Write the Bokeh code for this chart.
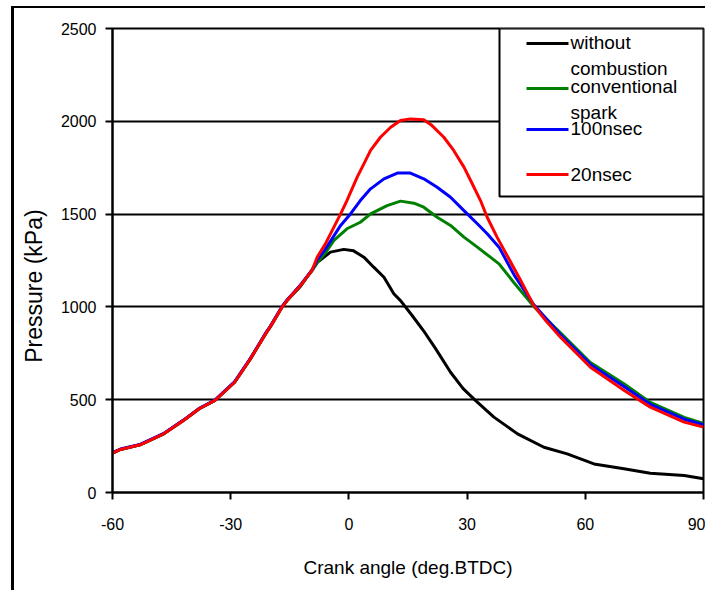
from bokeh.plotting import figure
from bokeh.models import Range1d, FixedTicker, Label, BoxAnnotation
from bokeh.embed import file_html
from bokeh.resources import INLINE

# ---------------- data ----------------
x_ticks = [-60, -30, 0, 30, 60, 90]
x_tick_labels = ["-60", "-30", "0", "30", "60", "90"]
y_ticks = [0, 500, 1000, 1500, 2000, 2500]
y_tick_labels = ["0", "500", "1000", "1500", "2000", "2500"]

series_names = ["without combustion", "conventional spark", "100nsec", "20nsec"]
series_colors = ["black", "green", "blue", "red"]

# without combustion
wc_deg = [-60, -58, -53, -47, -42, -38, -34, -29, -25, -21, -20, -17, -15.7, -12.3, -10, -8,
          -4.7, -1.3, 1.2, 3.8, 6.3, 8.9, 11.4, 13.1, 16, 19, 22, 25.8, 29, 32.1, 36.8, 42.8,
          49.5, 55.4, 62.2, 69.8, 76.5, 85.1, 90]
wc_kpa = [212, 232, 257, 316, 388, 451, 496, 594, 720, 860, 891, 998, 1034, 1110, 1180, 1240,
          1295, 1310, 1302, 1268, 1214, 1160, 1071, 1034, 955, 870, 775, 648, 560, 496, 406, 316,
          244, 208, 154, 128, 104, 92, 74]

# conventional spark
cs_deg = [-60, -58, -53, -47, -42, -38, -34, -29, -25, -21, -20, -17, -15.7, -12.3, -9.3, -8,
          -6, -3.8, -0.5, 2.9, 5.5, 9.7, 13.1, 16.5, 19, 22.4, 25.8, 29.2, 32.6, 35.9, 38.1,
          41.8, 47, 53.7, 61.3, 69.9, 76.5, 85.1, 90]
cs_kpa = [212, 232, 257, 316, 388, 451, 496, 594, 720, 860, 891, 998, 1034, 1115, 1196, 1240,
          1290, 1358, 1421, 1456, 1501, 1546, 1570, 1559, 1537, 1483, 1439, 1376, 1322, 1268, 1232,
          1133, 1000, 860, 700, 585, 485, 405, 372]

# 100 nsec
n100_deg = [-60, -58, -53, -47, -42, -38, -34, -29, -25, -21, -20, -17, -15.7, -12.3, -9.3, -8,
            -6, -2.1, 0.4, 2.9, 5.5, 8.9, 12.3, 15.6, 19, 22.4, 25.8, 29.2, 32.6, 35.1, 38.1,
            42, 47, 53.7, 61.3, 69.9, 76.5, 85.1, 90]
n100_kpa = [214, 234, 259, 318, 390, 453, 498, 597, 723, 863, 894, 1001, 1037, 1118, 1200, 1255,
            1310, 1439, 1501, 1573, 1636, 1690, 1721, 1721, 1690, 1645, 1591, 1519, 1448, 1394, 1322,
            1170, 1010, 850, 690, 570, 475, 395, 365]

# 20 nsec
n20_deg = [-60, -58, -53, -47, -42, -38, -34, -29, -25, -21, -20, -17, -15.7, -12.3, -9.3, -8,
           -6, -2.1, -0.5, 2.1, 3.8, 5.5, 8.0, 10.6, 13.1, 15.6, 19, 21.1, 24.1, 26.6, 29.2, 30.9,
           33.4, 35.1, 37.6, 43.6, 46.9, 50, 53.7, 61.3, 69.9, 76.5, 85.1, 90]
n20_kpa = [212, 232, 257, 316, 388, 451, 496, 594, 720, 860, 891, 998, 1034, 1115, 1200, 1270,
           1338, 1501, 1573, 1699, 1771, 1843, 1914, 1968, 2004, 2013, 2008, 1977, 1914, 1843, 1753, 1681,
           1573, 1483, 1376, 1142, 1008, 925, 837, 675, 550, 460, 379, 352]

# ---------------- layout constants ----------------
FONT = "Liberation Sans"
FR_L, FR_R, FR_T, FR_B = 112, 703, 28, 492   # frame edges in the picture (px)
BORDER_X, BORDER_Y = 11, 6                    # outer chart border position
CANVAS_X, CANVAS_Y = BORDER_X + 3, BORDER_Y + 2
W, H = 708 - CANVAS_X, 592 - CANVAS_Y
YLABEL_PAD = "\u00a0" * 8   # pushes the rotated y title a little below the frame centre


def dx(px):
    return -60 + (px - FR_L) * 150.0 / (FR_R - FR_L)


def dy(py):
    return 2500.0 * (FR_B - py) / (FR_B - FR_T)


p = figure(width=W, height=H,
           x_range=Range1d(-60, 90), y_range=Range1d(0, 2500),
           output_backend="svg", toolbar_location=None,
           min_border_left=FR_L - CANVAS_X, min_border_right=CANVAS_X + W - FR_R,
           min_border_top=FR_T - CANVAS_Y, min_border_bottom=CANVAS_Y + H - FR_B,
           background_fill_color="white", border_fill_color="white",
           styles={"margin-left": f"{BORDER_X}px", "margin-top": f"{BORDER_Y}px",
                   "border-left": "3px solid black", "border-top": "2px solid black"})

p.outline_line_color = "black"
p.outline_line_width = 2

p.xgrid.visible = False
p.ygrid.grid_line_color = "black"
p.ygrid.grid_line_width = 2
p.ygrid.ticker = FixedTicker(ticks=y_ticks)

p.xaxis.ticker = FixedTicker(ticks=x_ticks)
p.yaxis.ticker = FixedTicker(ticks=y_ticks)
p.xaxis.major_label_overrides = dict(zip(x_ticks, x_tick_labels))
p.yaxis.major_label_overrides = dict(zip(y_ticks, y_tick_labels))

for ax in (p.xaxis[0], p.yaxis[0]):
    ax.axis_line_color = "black"
    ax.axis_line_width = 2
    ax.major_tick_line_color = "black"
    ax.major_tick_line_width = 2
    ax.major_tick_in = 0
    ax.major_tick_out = 7
    ax.minor_tick_line_color = None
    ax.major_label_text_font = FONT
    ax.major_label_text_font_size = "16px"
    ax.major_label_text_color = "black"
    ax.axis_label_text_font = FONT
    ax.axis_label_text_font_style = "normal"
    ax.axis_label_text_color = "black"

p.xaxis.major_label_standoff = 18
p.yaxis.major_label_standoff = 9
p.xaxis.axis_label = "Crank angle (deg.BTDC)"
p.xaxis.axis_label_text_font_size = "19px"
p.xaxis.axis_label_standoff = 24
p.yaxis.axis_label = "Pressure (kPa)" + YLABEL_PAD
p.yaxis.axis_label_text_font_size = "23px"
p.yaxis.axis_label_standoff = 11

all_x = [wc_deg, cs_deg, n100_deg, n20_deg]
all_y = [wc_kpa, cs_kpa, n100_kpa, n20_kpa]
for xs, ys, col in zip(all_x, all_y, series_colors):
    p.line(xs, ys, line_color=col, line_width=3)

# ---------------- legend (drawn by hand to match the wrapped layout) ----------------
p.add_layout(BoxAnnotation(left=dx(499), right=dx(FR_R), top=dy(FR_T), bottom=dy(196),
                           fill_color="white", fill_alpha=1.0,
                           line_color="black", line_width=2, line_alpha=1.0))

sample_rows = [43, 88, 129, 174]
for row, col in zip(sample_rows, series_colors):
    p.add_layout(BoxAnnotation(left=dx(526), right=dx(568), top=dy(row - 1.5), bottom=dy(row + 1.5),
                               fill_color=col, fill_alpha=1.0, line_alpha=0))

legend_lines = [("without", 42), ("combustion", 68), ("conventional", 86),
                ("spark", 112), ("100nsec", 128), ("20nsec", 174)]
for txt, row in legend_lines:
    p.add_layout(Label(x=dx(570), y=dy(row), text=txt, text_align="left", text_baseline="middle",
                       text_font=FONT, text_font_size="19px", text_color="black"))

open("out.html", "w").write(file_html(p, INLINE))
